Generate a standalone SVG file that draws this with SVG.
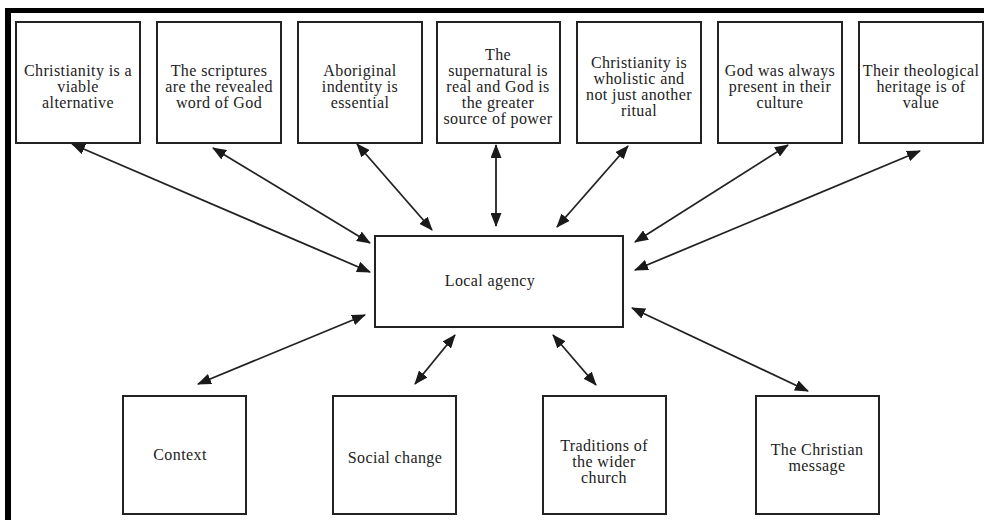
<svg xmlns="http://www.w3.org/2000/svg" width="984" height="520" viewBox="0 0 984 520">
<style>
.box{fill:#fff;stroke:#222;stroke-width:2}
.t{font-family:"Liberation Serif","Times New Roman",serif;font-size:16px;letter-spacing:0.4px;fill:#222;text-anchor:middle}
.c{stroke:#222;stroke-width:1.8;fill:none;marker-start:url(#ah);marker-end:url(#ah)}
</style>
<defs>
<marker id="ah" viewBox="0 0 14 11" refX="13" refY="5.5" markerWidth="14" markerHeight="11" markerUnits="userSpaceOnUse" orient="auto-start-reverse">
<path d="M0,0 L14,5.5 L0,11 z" fill="#1a1a1a"/>
</marker>
</defs>
<rect x="0" y="0" width="984" height="520" fill="#fff"/>
<g id="frame">
<rect x="5" y="8" width="979" height="5" fill="#000"/>
<rect x="5" y="8" width="6" height="512" fill="#000"/>
</g>
<g id="n1"><rect class="box" x="16" y="22" width="124" height="121"/>
<text class="t"><tspan x="78" y="76">Christianity is a</tspan><tspan x="78" y="92">viable</tspan><tspan x="78" y="108">alternative</tspan></text></g>
<g id="n2"><rect class="box" x="157" y="22" width="124" height="121"/>
<text class="t"><tspan x="219" y="76">The scriptures</tspan><tspan x="219" y="92">are the revealed</tspan><tspan x="219" y="108">word of God</tspan></text></g>
<g id="n3"><rect class="box" x="298" y="22" width="124" height="121"/>
<text class="t"><tspan x="360" y="76">Aboriginal</tspan><tspan x="360" y="92">indentity is</tspan><tspan x="360" y="108">essential</tspan></text></g>
<g id="n4"><rect class="box" x="437" y="22" width="123" height="121"/>
<text class="t"><tspan x="498" y="60">The</tspan><tspan x="498" y="76">supernatural is</tspan><tspan x="498" y="92">real and God is</tspan><tspan x="498" y="108">the greater</tspan><tspan x="498" y="124">source of power</tspan></text></g>
<g id="n5"><rect class="box" x="577" y="22" width="124" height="121"/>
<text class="t"><tspan x="639" y="68">Christianity is</tspan><tspan x="639" y="84">wholistic and</tspan><tspan x="639" y="100">not just another</tspan><tspan x="639" y="116">ritual</tspan></text></g>
<g id="n6"><rect class="box" x="718" y="22" width="124" height="121"/>
<text class="t"><tspan x="780" y="76">God was always</tspan><tspan x="780" y="92">present in their</tspan><tspan x="780" y="108">culture</tspan></text></g>
<g id="n7"><rect class="box" x="859" y="22" width="124" height="121"/>
<text class="t"><tspan x="921" y="76">Their theological</tspan><tspan x="921" y="92">heritage is of</tspan><tspan x="921" y="108">value</tspan></text></g>
<g id="center"><rect class="box" x="375" y="236" width="248" height="91"/>
<text class="t" x="490" y="286">Local agency</text></g>
<g id="b1"><rect class="box" x="123" y="396" width="123" height="118"/>
<text class="t" x="180" y="460">Context</text></g>
<g id="b2"><rect class="box" x="333" y="396" width="123" height="118"/>
<text class="t" x="395" y="463">Social change</text></g>
<g id="b3"><rect class="box" x="543" y="396" width="123" height="118"/>
<text class="t"><tspan x="604" y="451">Traditions of</tspan><tspan x="604" y="467">the wider</tspan><tspan x="604" y="483">church</tspan></text></g>
<g id="b4"><rect class="box" x="756" y="396" width="123" height="118"/>
<text class="t"><tspan x="817" y="455">The Christian</tspan><tspan x="817" y="471">message</tspan></text></g>
<g id="connectors">
<line class="c" x1="72" y1="144" x2="370" y2="272"/>
<line class="c" x1="213" y1="148" x2="370" y2="243"/>
<line class="c" x1="357" y1="144" x2="432" y2="230"/>
<line class="c" x1="496" y1="145" x2="496" y2="226"/>
<line class="c" x1="628" y1="146" x2="557" y2="227"/>
<line class="c" x1="788" y1="145" x2="635" y2="242"/>
<line class="c" x1="920" y1="151" x2="635" y2="270"/>
<line class="c" x1="365" y1="315" x2="198" y2="384"/>
<line class="c" x1="455" y1="335" x2="415" y2="384"/>
<line class="c" x1="553" y1="335" x2="596" y2="385"/>
<line class="c" x1="632" y1="308" x2="808" y2="391"/>
</g>
</svg>
